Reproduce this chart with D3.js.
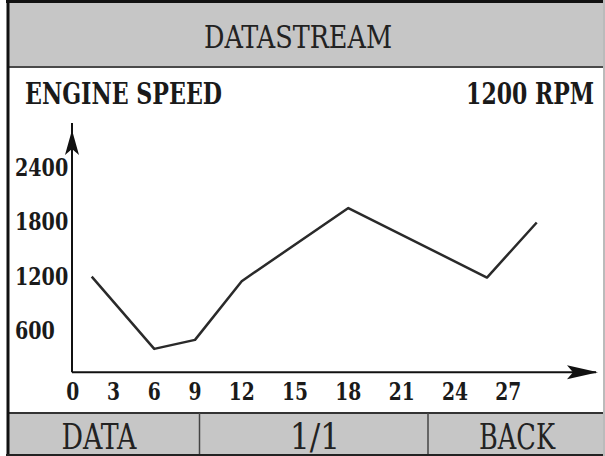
<!DOCTYPE html>
<html>
<head>
<meta charset="utf-8">
<script src="https://cdn.jsdelivr.net/npm/d3@7/dist/d3.min.js"></script>
<style>
  html, body { margin: 0; padding: 0; background: #fff; }
  svg { display: block; }
  text { font-family: "DejaVu Serif", serif; font-stretch: condensed; }
</style>
</head>
<body>
<svg id="chart" width="605" height="456"></svg>
<script>
// ---- data ----
const title = "DATASTREAM";
const paramName = "ENGINE SPEED";
const paramReading = "1200 RPM";
const footerLabels = ["DATA", "1/1", "BACK"];
const xTicks = [0, 3, 6, 9, 12, 15, 18, 21, 24, 27];
const yTicks = [600, 1200, 1800, 2400];
const timeValues = [1.4, 6, 9, 12, 18, 25.8, 28.6];
const speedValues = [1200, 400, 500, 1150, 1960, 1190, 1800];

// ---- drawing ----
const svg = d3.select("#chart");
const W = 605, H = 456;
const GRAY = "#c6c6c6";

svg.append("rect").attr("width", W).attr("height", H).attr("fill", "#fff");

// header
svg.append("rect").attr("x", 8).attr("y", 3).attr("width", W - 8).attr("height", 64).attr("fill", GRAY);
svg.append("line").attr("x1", 8).attr("x2", W).attr("y1", 67).attr("y2", 67)
  .attr("stroke", "#4a4a4a").attr("stroke-width", 2);
svg.append("text").attr("x", 298).attr("y", 48).attr("text-anchor", "middle")
  .attr("font-size", 31)
  .attr("textLength", 188).attr("lengthAdjust", "spacingAndGlyphs")
  .attr("fill", "#222").text(title);

// parameter line
svg.append("text").attr("x", 25).attr("y", 104)
  .attr("font-size", 29).attr("font-weight", "bold")
  .attr("textLength", 197).attr("lengthAdjust", "spacingAndGlyphs")
  .attr("fill", "#1a1a1a").text(paramName);
const reading = svg.append("text").attr("text-anchor", "end")
  .attr("font-size", 29).attr("font-weight", "bold")
  .attr("fill", "#1a1a1a").text(paramReading);
const natW = reading.node().getComputedTextLength();
reading.attr("transform", `translate(594,104) scale(${Math.min(1, 128 / natW)},1)`);

// footer
svg.append("rect").attr("x", 8).attr("y", 413).attr("width", W - 8).attr("height", H - 413).attr("fill", GRAY);
svg.append("line").attr("x1", 8).attr("x2", W).attr("y1", 413).attr("y2", 413)
  .attr("stroke", "#333").attr("stroke-width", 2);
const footerCenters = [99, 315, 517];
const footerWidths = [75, 50, 76];
const dividers = [199.5, 428];
dividers.forEach(x => svg.append("line").attr("x1", x).attr("x2", x).attr("y1", 413).attr("y2", H)
  .attr("stroke", "#444").attr("stroke-width", 1.5));
footerLabels.forEach((t, i) => svg.append("text").attr("x", footerCenters[i]).attr("y", 449)
  .attr("text-anchor", "middle").attr("font-size", 36)
  .attr("textLength", footerWidths[i]).attr("lengthAdjust", "spacingAndGlyphs")
  .attr("fill", "#222").text(t));

// outer frame
svg.append("line").attr("x1", 8).attr("x2", 8).attr("y1", 0).attr("y2", H).attr("stroke", "#111").attr("stroke-width", 3);
svg.append("line").attr("x1", 6).attr("x2", W).attr("y1", 1.5).attr("y2", 1.5).attr("stroke", "#111").attr("stroke-width", 3);
svg.append("line").attr("x1", 6).attr("x2", W).attr("y1", 455).attr("y2", 455).attr("stroke", "#222").attr("stroke-width", 2);
svg.append("line").attr("x1", 604).attr("x2", 604).attr("y1", 0).attr("y2", H).attr("stroke", "#bbb").attr("stroke-width", 2);

// scales
const x = d3.scaleLinear().domain([0, 9, 12, 27]).range([72.7, 195, 241.7, 508.3]);
const y = d3.scaleLinear().domain([0, 2400]).range([385, 168.3]);
const axisX = 72, axisY = 372.3;

// axes lines
svg.append("line").attr("x1", axisX).attr("x2", axisX).attr("y1", 123).attr("y2", axisY)
  .attr("stroke", "#111").attr("stroke-width", 2);
svg.append("line").attr("x1", axisX).attr("x2", 596).attr("y1", axisY).attr("y2", axisY)
  .attr("stroke", "#111").attr("stroke-width", 2);
// arrowheads
svg.append("path").attr("d", `M${axisX},130 L${axisX + 7},155 L${axisX},149 L${axisX - 7},155 Z`).attr("fill", "#111");
svg.append("path").attr("d", `M598,${axisY} L567,${axisY - 7} L573,${axisY} L567,${axisY + 7} Z`).attr("fill", "#111");

// tick labels
const tickG = svg.append("g").attr("font-size", 24).attr("font-weight", "bold").attr("fill", "#1a1a1a");
tickG.selectAll("text.xt").data(xTicks).join("text").attr("class", "xt")
  .attr("x", d => x(d)).attr("y", 400).attr("text-anchor", "middle")
  .attr("textLength", d => String(d).length * 13).attr("lengthAdjust", "spacingAndGlyphs")
  .text(d => d);
tickG.selectAll("text.yt").data(yTicks).join("text").attr("class", "yt")
  .attr("x", 15).attr("y", d => y(d) + 8).attr("text-anchor", "start")
  .attr("textLength", d => String(d).length * 13.3).attr("lengthAdjust", "spacingAndGlyphs")
  .text(d => d);

// data line
const pts = timeValues.map((t, i) => [t, speedValues[i]]);
svg.append("path").datum(pts)
  .attr("d", d3.line().x(d => x(d[0])).y(d => y(d[1])))
  .attr("fill", "none").attr("stroke", "#2a2a2a").attr("stroke-width", 2.5)
  .attr("stroke-linejoin", "round");
</script>
</body>
</html>
